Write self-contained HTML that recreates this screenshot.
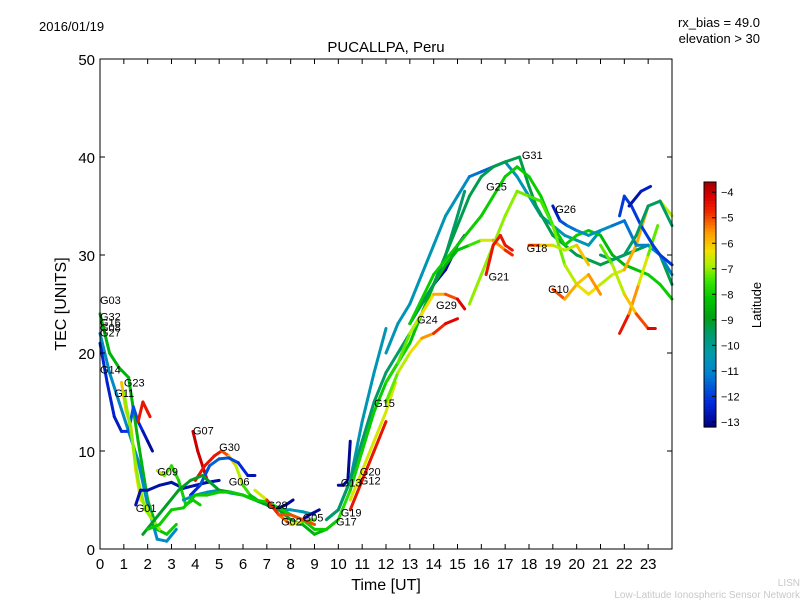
<!DOCTYPE html>
<html><head><meta charset="utf-8"><style>
body{margin:0;background:#fff;}
svg{display:block;font-family:"Liberation Sans","DejaVu Sans",sans-serif;}
</style></head><body>
<svg id="chart" width="800" height="600" viewBox="0 0 800 600">
<text x="39" y="31" font-size="13">2016/01/19</text>
<text x="760" y="27" font-size="13" text-anchor="end">rx_bias = 49.0</text>
<text x="760" y="43" font-size="13" text-anchor="end">elevation &gt; 30</text>
<text x="386" y="52" font-size="15" text-anchor="middle">PUCALLPA, Peru</text>
<text x="386" y="590" font-size="16" text-anchor="middle">Time [UT]</text>
<text x="66" y="304" font-size="16" text-anchor="middle" transform="rotate(-90 66 304)">TEC [UNITS]</text>
<text x="800" y="586" font-size="10" fill="#c8c8c8" text-anchor="end">LISN</text>
<text x="800" y="598" font-size="10" fill="#c8c8c8" text-anchor="end">Low-Latitude Ionospheric Sensor Network</text>
<g id="plot"></g>
<g id="axes"></g>
<g id="cbar"></g>
<text x="761" y="305" font-size="13" text-anchor="middle" transform="rotate(-90 761 305)">Latitude</text>
</svg>
<script>
const xTicks=[0,1,2,3,4,5,6,7,8,9,10,11,12,13,14,15,16,17,18,19,20,21,22,23];
const yTicks=[0,10,20,30,40,50];
const cbTicks=[-4,-5,-6,-7,-8,-9,-10,-11,-12,-13];
const trackNames=["G03","G32","G11","G23","G01","R1","B1","G09","G07","G30","C1","T1","GL1","LG1","G28","B2","G05","G02","G13","T2","G2","G24","LG2","G15","R2","O1","Y1","G25","G31","LG3","Y2","G21","G18","G10","G26","R3","B3","B4","G38","Y3"];
const trackT=[
[0,0.4,0.8,1.2,1.6,2,2.4,2.8,3.2],
[0,0.4,0.8,1.2,1.6,2,2.4,2.8,3.2],
[0,0.3,0.6,0.9,1.2,1.4,1.6,1.8,2.0,2.2],
[0.9,1.1,1.3,1.5,1.7,1.9,2.1],
[1,1.3,1.6,1.9,2.2,2.5],
[1.6,1.8,2.0,2.1],
[1.5,1.7,2,2.5,3,3.5,4,4.5,5],
[2.4,2.7,3,3.3,3.6,3.9,4.2],
[3.9,4.1,4.3,4.5],
[4,4.4,4.8,5.1,5.4,5.7,6,6.3,6.6],
[3.8,4.2,4.6,5,5.4,5.8,6.2,6.5],
[3.5,4,4.5,5,5.5,6,6.5,7,7.5,8,8.5,9],
[1.8,2.3,2.8,3.3,3.8,4.3,5,5.5,6,6.5,7,7.5,8,8.5,9,9.5,10],
[2,2.5,3,3.5,4,4.5,5,5.5,6,6.5,7,7.5,8,8.5,9,9.5,10],
[6.5,7,7.5,8,8.5,9],
[7.5,7.8,8.1],
[8.5,8.8,9.2],
[7.5,8,8.5,9],
[10,10.2,10.4,10.5],
[9.5,10,10.5,11,11.5,12],
[9.5,10,10.5,11,11.5,12,12.5,13,13.5,14,14.5,15,15.3],
[13,13.5,14,14.5,15,15.3],
[10,10.5,11,11.5,12,12.5,13,13.5,14,14.5,15,15.5,16,16.5,17,17.3],
[10.5,11,11.5,12,12.4],
[10.5,11,11.5,12],
[12,12.5,13,13.5,14,14.5,15,15.3],
[12,12.5,13,13.5,14,14.5,15],
[12,12.5,13,13.5,14,14.5,15,15.5,16,16.5,17,17.5,18,18.5,19,19.5,20,20.5,21],
[13,13.5,14,14.5,15,15.5,16,16.5,17,17.6,18,18.3,19,20,21,22,23,23.5,24],
[13,14,15,16,17,17.5,18,18.5,19,19.5,20,20.5,21,21.5,22,22.5,23,23.5,24],
[15.5,16,16.5,17,17.5,18,18.5,19,19.5,20,20.5,21,21.5,22,22.5,23,23.5,24],
[16.2,16.5,16.8,17,17.3],
[18,18.5,19,19.5,20,20.5],
[19,19.5,20,20.5,21],
[19,19.3,19.6,20,20.5,21,21.5,22,22.5,23,23.5,24],
[21.8,22.2,22.6,23,23.4],
[21.8,22,22.3,22.7,23.2,23.5,24],
[22.2,22.7,23.1],
[21,21.5,22,22.5,23,23.5,24],
[21,21.5,22,22.5,23,23.3]];
const trackV=[
[24,20,18.5,17.5,11,5,2,1.5,2.5],
[22,18,15,12,9,4.5,1,0.8,2],
[21,17,13.5,12,12,14.5,13,12,11,10],
[17,14,12.5,8,5,4.5,3.5],
[16,12,7,4,3,2],
[13,15,14,13.5],
[4.5,6,6,6.5,6.8,6.2,6.5,6.8,7],
[8,7.5,8.5,7,4.5,5,4.5],
[12,10,8.5,7],
[7,8.5,9.5,10,9.5,8.5,6.5,5.5,5],
[5.5,6.5,8.5,9.2,9.3,8.8,7.5,7.5],
[5,5.5,5.8,6,5.7,5.5,5,4.5,4,4,3.8,3.5],
[1.5,3,4.5,6,7,7.5,6,5.8,5.5,5,4.5,4,3,2.5,1.5,2,3],
[2,2.5,4,4.2,5.5,5.5,5.8,5.8,5.5,5,4.8,4.2,3.5,3,2,2,3],
[6,5,3.5,2.5,2.8,3],
[4.2,4.5,5],
[3,3.5,4],
[3.5,3.5,3,2.5],
[6.5,6.5,7,11],
[3,4,7,13,18,22.5],
[3,4,7,11,15,18,20,22,24,27,30,34,36.5],
[23,25,27,28.5,31,32],
[3,6,10,14,17,19,21,24,27,29,30.5,31,31.5,31.5,30.5,30],
[5,8,11,14,17],
[4,7,10,13],
[17,19,22,24,26,26,25.5,24.5],
[15,18,20,21.5,22,23,23.5],
[20,23,25,28,31,34,36,38,38.5,39,39.5,38,36,34,33,32,31.5,31,32.5],
[23,25,27,30,33,36,38,39,39.5,40,37,35,32,30,29,30,31,30,27],
[23,28,31,34,38,39,38,36,33,31,32,32.5,32,30,29,28.5,28,27,25.5],
[25,28,31,34,36.5,36,35.5,33,29,27,26,27,28,28.5,31,35,35.5,34],
[28,31,32,31,30.5],
[31,31,31,30.5,31,29],
[26.5,25.5,27,28,26],
[35,33.5,33,32.5,32,32.5,33,33.5,31,31,30,28],
[22,24,27,30,33],
[34,36,35,33,31,30,29],
[35,36.5,37],
[30,29.5,30,32,35,35.5,33],
[31,29,26,24,22.5,22.5]];
const trackLat=[
[-8.5,-8.5,-8.5,-8.5,-8.5,-8.5,-8.3,-8,-8],
[-10.8,-10.8,-10.8,-10.8,-10.8,-10.8,-10.8,-10.8,-10.8],
[-12.3,-12.3,-12.5,-12.5,-11.8,-11.5,-12,-12.5,-12.8,-13],
[-6,-6,-6,-6.2,-6.3,-6.5,-6.5],
[-7,-7,-7,-7,-7,-7],
[-4.5,-4.5,-4.5,-4.5],
[-12.8,-12.8,-12.8,-12.8,-12.8,-12.8,-12.8,-12.8,-12.8],
[-6.5,-7,-7.5,-7.8,-8,-8,-8],
[-4,-4,-4,-4],
[-4.5,-4.5,-4.5,-4.5,-5.5,-6.5,-7,-8,-8.5],
[-12.5,-12,-11.5,-11.5,-11.7,-12,-12.5,-13],
[-10.5,-10.5,-10.5,-10.5,-10.5,-10.5,-10.5,-10.5,-10.5,-10.5,-10.5,-10.5],
[-9,-9,-9,-9,-9,-9,-9,-9,-9,-9,-9,-9,-9,-8.8,-8.5,-8.3,-8],
[-8,-8,-8,-8,-8,-8,-8,-8,-8,-8,-8,-8,-8,-8,-8,-8,-8],
[-8,-5,-4.5,-6,-7,-8],
[-13,-13,-13],
[-13,-13,-13],
[-5,-5,-5,-5],
[-13,-13,-13,-13],
[-10.5,-10.5,-10.5,-10.5,-10.5,-10.5],
[-9.5,-9.5,-9.5,-9.5,-9.5,-9.5,-9.5,-9.5,-9.5,-9.5,-9.5,-9.5,-9.5],
[-13,-13,-13,-13,-13,-13],
[-7.5,-7.8,-8,-8,-8,-8,-8,-8.5,-8.5,-8.5,-8.5,-8,-7,-6,-5,-4.5],
[-6.5,-6.5,-6.5,-6.5,-6.5],
[-4.5,-4.5,-4.5,-4.5],
[-8,-7.5,-7,-6.5,-6,-5.5,-4.5,-4],
[-7.5,-7,-6.5,-6,-5,-4.5,-4],
[-10.5,-10.5,-10.5,-10.5,-10.5,-10.5,-10.5,-11,-11.5,-11.5,-11,-10.5,-10.5,-10.5,-10.5,-10.5,-10.5,-10.5,-10.5],
[-9.3,-9.3,-9.3,-9.3,-9.3,-9.3,-9.3,-9.3,-9.3,-9.3,-9.3,-9.3,-9.3,-9.3,-9.3,-9.3,-9.3,-9.3,-9.3],
[-8,-8,-8,-8,-8,-8,-8,-8,-8,-8,-8,-8,-8.2,-8.5,-8.5,-8.2,-8,-8,-8],
[-7,-7,-7,-7,-7,-7.3,-7.5,-7.3,-7,-6.5,-6,-6.5,-7,-6,-5.5,-6,-6.5,-7],
[-4.5,-4.5,-4.5,-4.5,-4.5],
[-4.5,-5.5,-6.5,-7,-6.5,-5.5],
[-4.5,-5.5,-6,-6,-5],
[-13,-12,-11.5,-11,-10.5,-10.5,-11,-11.5,-11,-11,-11,-11],
[-4,-5,-6,-7,-7.5],
[-12,-12,-12,-12,-12,-12,-12],
[-13,-12.5,-12.5],
[-9.5,-9.5,-9.5,-9.5,-9.5,-9.5,-9.5],
[-7.5,-7,-6.5,-5.5,-4.5,-4]];
const labelText=["G03","G32","G16","G08","G27","G14","G23","G11","G07","G30","G09","G06","G01","G28","G02","G05","G13","G20","G12","G19","G17","G15","G24","G29","G25","G31","G21","G18","G26","G10"];
const labelT=[0,0,0,0,0,0,1,0.6,3.9,5,2.4,5.4,1.5,7,7.6,8.5,10.1,10.9,10.9,10.1,9.9,11.5,13.3,14.1,16.2,17.7,16.3,17.9,19.1,18.8];
const labelV=[25,23.3,22.7,22.2,21.7,17.9,16.6,15.5,11.7,10,7.5,6.5,3.8,4.1,2.4,2.8,6.4,7.5,6.6,3.3,2.4,14.5,23,24.5,36.6,39.8,27.4,30.3,34.3,26.1];

const X0=100,X1=672,Y0=549,Y1=59;
const xs=t=>X0+(t/24)*(X1-X0);
const ys=v=>Y0-(v/50)*(Y0-Y1);
const LMIN=-13.2,LMAX=-3.6;
const stops=[[0,[0,0,130]],[0.1,[0,40,220]],[0.22,[0,130,210]],[0.3,[0,155,170]],[0.38,[0,155,110]],[0.45,[0,160,20]],[0.53,[0,200,0]],[0.6,[60,230,0]],[0.66,[170,240,0]],[0.72,[240,225,0]],[0.8,[255,150,0]],[0.88,[240,40,0]],[0.94,[220,0,0]],[1,[160,0,0]]];
function cmap(f){f=Math.max(0,Math.min(1,f));
 for(let i=0;i<stops.length-1;i++){const a=stops[i],b=stops[i+1];
  if(f<=b[0]){const u=(f-a[0])/(b[0]-a[0]);
   return `rgb(${Math.round(a[1][0]+u*(b[1][0]-a[1][0]))},${Math.round(a[1][1]+u*(b[1][1]-a[1][1]))},${Math.round(a[1][2]+u*(b[1][2]-a[1][2]))})`;}}
 return 'rgb(160,0,0)';}
const latColor=l=>cmap((l-LMIN)/(LMAX-LMIN));
const NS="http://www.w3.org/2000/svg";
function mk(tag,attrs,parent){const e=document.createElementNS(NS,tag);for(const k in attrs)e.setAttribute(k,attrs[k]);parent.appendChild(e);return e;}
const plot=document.getElementById('plot');
const axes=document.getElementById('axes');
const cbar=document.getElementById('cbar');
for(let i=0;i<trackT.length;i++){
 const g=mk('g',{},plot);
 
 
 const T=trackT[i],V=trackV[i],L=trackLat[i];
 for(let j=0;j<T.length-1;j++){
  const s=mk('line',{x1:xs(T[j]),y1:ys(V[j]),x2:xs(T[j+1]),y2:ys(V[j+1]),stroke:latColor((L[j]+L[j+1])/2),'stroke-width':3,'stroke-linecap':'round'},g);
  
  
 }
}
for(let i=0;i<labelText.length;i++){
 const t=mk('text',{x:xs(labelT[i]),y:ys(labelV[i]),'font-size':11},plot);
 t.textContent=labelText[i];
 
 
}
const frame=mk('rect',{x:X0,y:Y1,width:X1-X0,height:Y0-Y1,fill:'none',stroke:'#000','stroke-width':1},axes);


xTicks.forEach(v=>{const x=xs(v);
 mk('line',{x1:x,y1:Y0,x2:x,y2:Y0-5,stroke:'#000'},axes);
 mk('line',{x1:x,y1:Y1,x2:x,y2:Y1+5,stroke:'#000'},axes);
 const t=mk('text',{x:x,y:Y0+20,'font-size':15,'text-anchor':'middle'},axes);t.textContent=v;
 
 });
yTicks.forEach(v=>{const y=ys(v);
 mk('line',{x1:X0,y1:y,x2:X0+5,y2:y,stroke:'#000'},axes);
 mk('line',{x1:X1,y1:y,x2:X1-5,y2:y,stroke:'#000'},axes);
 const t=mk('text',{x:X0-5,y:y+6,'font-size':15,'text-anchor':'end'},axes);t.textContent=v;
 
 });
const CX=704,CW=12,CT=182,CB=427;
const cy=l=>CB-(l-LMIN)/(LMAX-LMIN)*(CB-CT);
for(let k=0;k<80;k++){const l0=LMIN+k*(LMAX-LMIN)/80,l1=LMIN+(k+1)*(LMAX-LMIN)/80;
 mk('rect',{x:CX,y:cy(l1),width:CW,height:cy(l0)-cy(l1)+0.6,fill:latColor((l0+l1)/2)},cbar);}
mk('rect',{x:CX,y:CT,width:CW,height:CB-CT,fill:'none',stroke:'#000'},cbar);
cbTicks.forEach(l=>{const y=cy(l);
 mk('line',{x1:CX+CW-4,y1:y,x2:CX+CW,y2:y,stroke:'#000'},cbar);
 const t=mk('text',{x:CX+CW+5,y:y+4,'font-size':11},cbar);t.textContent='\u2212'+Math.abs(l);
 
 });
</script>
</body></html>
